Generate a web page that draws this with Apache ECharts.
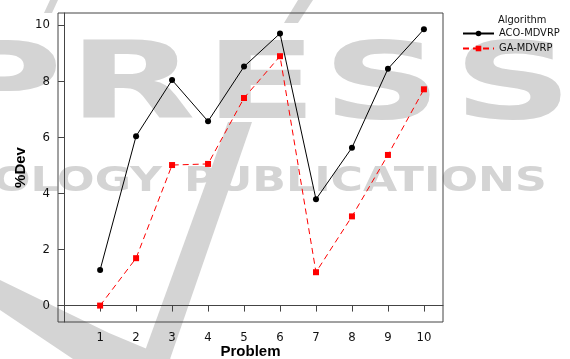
<!DOCTYPE html>
<html>
<head>
<meta charset="utf-8">
<script src="https://cdn.jsdelivr.net/npm/echarts@6/dist/echarts.min.js"></script>
<style>
  html, body { margin: 0; padding: 0; background: #fff; }
  #chart { width: 570px; height: 359px; }
</style>
</head>
<body>
<div id="chart"></div>
<script>
const problems = [1, 2, 3, 4, 5, 6, 7, 8, 9, 10]
const acoMdvrp = [1.27, 6.04, 8.04, 6.57, 8.52, 9.70, 3.79, 5.63, 8.44, 9.85]
const gaMdvrp = [0.0, 1.69, 5.01, 5.05, 7.40, 8.89, 1.19, 3.18, 5.37, 7.71]
const yTicks = [0, 2, 4, 6, 8, 10]

const labelFont = '"DejaVu Sans Condensed", "DejaVu Sans", sans-serif'
const nameFont = '"Liberation Sans", Arial, sans-serif'
const wmColor = '#d4d4d4'

// faint publisher watermark behind the plot
const wmLetters = [
  { ch: 'P', cx: 2 },
  { ch: 'R', cx: 132 },
  { ch: 'E', cx: 261 },
  { ch: 'S', cx: 382 },
  { ch: 'S', cx: 513 }
]
const watermark = wmLetters.map((l) => ({
  type: 'text',
  z: -10,
  x: l.cx,
  y: 90,
  scaleX: 1.55,
  style: {
    text: l.ch,
    font: 'bold 107px "DejaVu Sans"',
    fill: wmColor,
    align: 'center',
    verticalAlign: 'middle'
  }
})).concat([
  {
    type: 'text', z: -10, x: 162, y: 182, scaleX: 1.3,
    style: { text: 'OLOGY', font: 'bold 34px "DejaVu Sans"', fill: wmColor, align: 'right', verticalAlign: 'middle' }
  },
  {
    type: 'text', z: -10, x: 184, y: 182, scaleX: 1.3,
    style: { text: 'PUBLICATIONS', font: 'bold 34px "DejaVu Sans"', fill: wmColor, align: 'left', verticalAlign: 'middle' }
  },
  {
    type: 'polygon', z: -10,
    shape: { points: [[228, 122], [252, 122], [170, 359], [142, 359]] },
    style: { fill: wmColor }
  },
  {
    type: 'polygon', z: -10,
    shape: { points: [[0, 280], [109, 333], [171, 359], [73, 359], [0, 310]] },
    style: { fill: wmColor }
  },
  {
    type: 'polygon', z: -10,
    shape: { points: [[298, 0], [313, 0], [298, 23], [284, 23]] },
    style: { fill: wmColor }
  },
  {
    type: 'polygon', z: -10,
    shape: { points: [[50, 0], [58, 0], [52, 13], [44, 13]] },
    style: { fill: wmColor }
  }
])

const myChart = echarts.init(document.getElementById('chart'))
const option = {
  animation: false,
  backgroundColor: '#ffffff',
  graphic: watermark,
  title: {
    text: 'Algorithm',
    left: 498,
    top: 15,
    padding: 0,
    textStyle: {
      fontFamily: labelFont,
      fontSize: 11,
      fontWeight: 'normal',
      color: '#111'
    }
  },
  legend: {
    orient: 'vertical',
    left: 462,
    top: 28,
    padding: 0,
    itemWidth: 31,
    itemHeight: 7,
    itemGap: 4,
    textStyle: {
      fontFamily: labelFont,
      fontSize: 11,
      color: '#111'
    },
    data: ['ACO-MDVRP', 'GA-MDVRP']
  },
  grid: {
    left: 58,
    top: 13,
    right: 127,
    bottom: 37,
    containLabel: false,
    outerBoundsMode: 'none',
    show: true,
    borderColor: '#444',
    borderWidth: 1,
    backgroundColor: 'transparent'
  },
  xAxis: {
    type: 'value',
    min: -0.17,
    max: 10.53,
    name: 'Problem',
    nameLocation: 'middle',
    nameGap: 22,
    nameMoveOverlap: false,
    nameTextStyle: {
      fontFamily: nameFont,
      fontWeight: 'bold',
      fontSize: 15,
      color: '#000'
    },
    axisLine: { show: true, lineStyle: { color: '#444' } },
    axisTick: { show: true, length: 6, customValues: problems, lineStyle: { color: '#444' } },
    axisLabel: {
      customValues: problems,
      margin: 9,
      fontFamily: labelFont,
      fontSize: 13,
      color: '#111'
    },
    splitLine: { show: false }
  },
  yAxis: {
    type: 'value',
    min: -0.585,
    max: 10.43,
    name: '%Dev',
    nameLocation: 'middle',
    nameGap: 30,
    nameMoveOverlap: false,
    nameTextStyle: {
      fontFamily: nameFont,
      fontWeight: 'bold',
      fontSize: 15,
      color: '#000'
    },
    axisLine: { show: true, lineStyle: { color: '#444' } },
    axisTick: { show: true, length: 6, customValues: yTicks, lineStyle: { color: '#444' } },
    axisLabel: {
      customValues: yTicks,
      margin: 8,
      fontFamily: labelFont,
      fontSize: 13,
      color: '#111'
    },
    splitLine: { show: false }
  },
  series: [
    {
      name: 'ACO-MDVRP',
      type: 'line',
      z: 5,
      data: problems.map((p, i) => [p, acoMdvrp[i]]),
      symbol: 'circle',
      symbolSize: 6,
      itemStyle: { color: '#000' },
      lineStyle: { color: '#000', width: 1 }
    },
    {
      name: 'GA-MDVRP',
      type: 'line',
      z: 5,
      data: problems.map((p, i) => [p, gaMdvrp[i]]),
      symbol: 'rect',
      symbolSize: 6,
      itemStyle: { color: '#ff0000' },
      lineStyle: { color: '#ff0000', width: 1, type: [6, 4] }
    }
  ]
}
myChart.setOption(option)
</script>
</body>
</html>
